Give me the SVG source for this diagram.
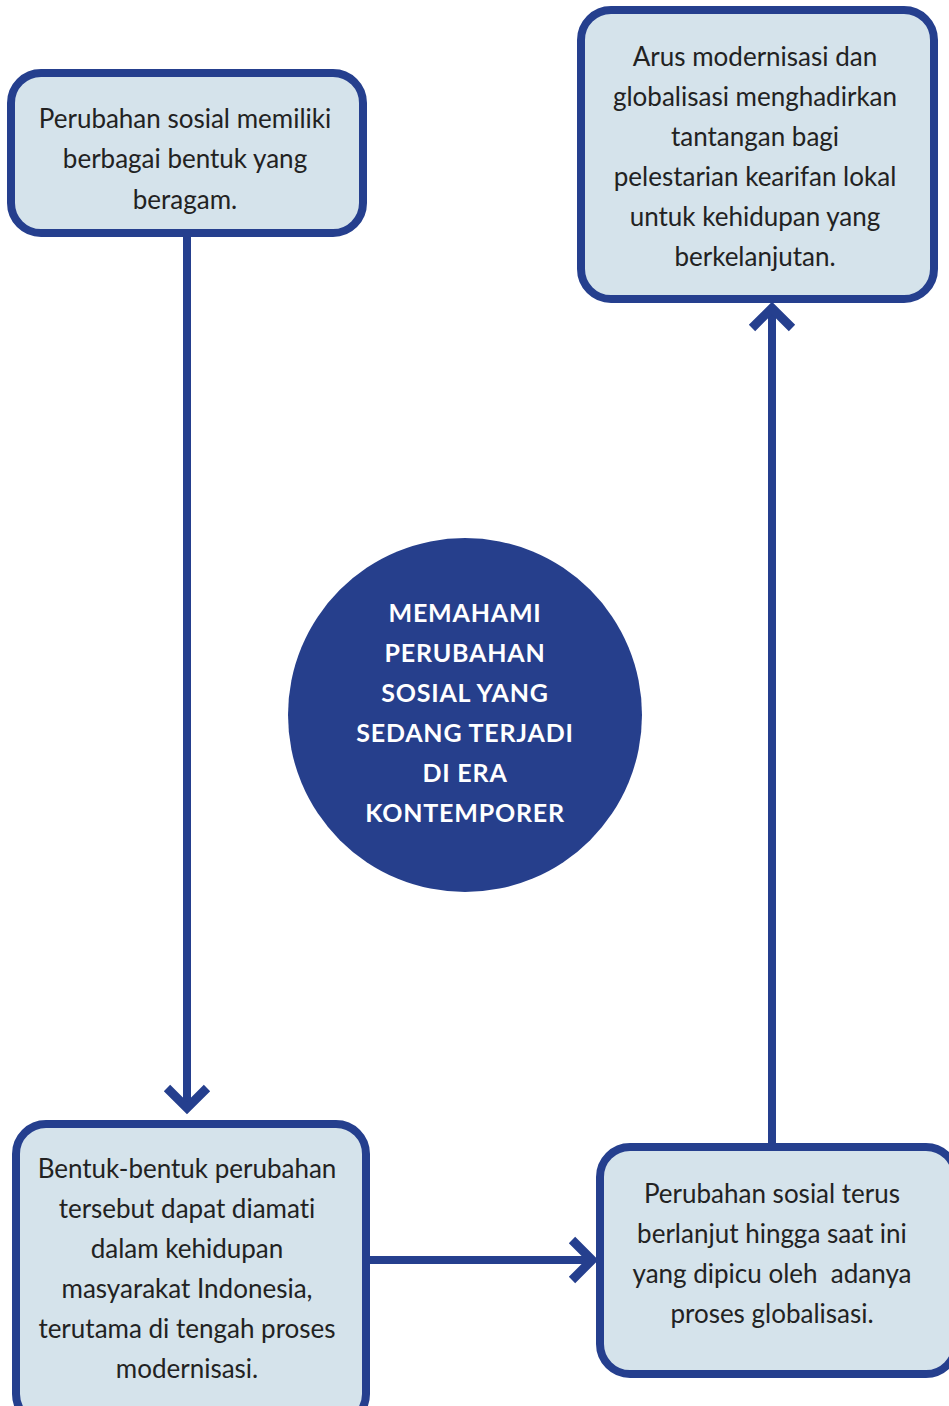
<svg xmlns="http://www.w3.org/2000/svg" width="949" height="1406" viewBox="0 0 949 1406">
<style>
.box{fill:#D5E3EB;stroke:#253F8E;stroke-width:8}
.t{font-family:Lato,"Noto Sans","Liberation Sans",sans-serif;font-size:26px;fill:#222;text-anchor:middle;font-variant-ligatures:none}
.c{font-family:Lato,"Noto Sans","Liberation Sans",sans-serif;font-size:25px;font-weight:bold;fill:#fff;text-anchor:middle;letter-spacing:0.8px}
.ln{fill:none;stroke:#253F8E;stroke-width:8}
.ah{fill:none;stroke:#253F8E;stroke-width:9;stroke-linejoin:miter}
</style>
<rect width="949" height="1406" fill="#fff"/>
<g id="connectors">
<line class="ln" x1="187" y1="237" x2="187" y2="1108"/>
<polyline class="ah" points="167,1088 187,1108 207,1088"/>
<line class="ln" x1="370" y1="1260" x2="592" y2="1260"/>
<polyline class="ah" points="572,1240 592,1260 572,1280"/>
<line class="ln" x1="772" y1="1147" x2="772" y2="308"/>
<polyline class="ah" points="752,328 772,308 792,328"/>
</g>
<g id="node1">
<rect class="box" x="11" y="73" width="352" height="160" rx="30"/>
<text class="t" x="185" y="128">Perubahan sosial memiliki</text>
<text class="t" x="185" y="168">berbagai bentuk yang</text>
<text class="t" x="185" y="209">beragam.</text>
</g>
<g id="node2">
<rect class="box" x="581" y="10" width="353" height="289" rx="30"/>
<text class="t" x="755" y="66">Arus modernisasi dan</text>
<text class="t" x="755" y="106">globalisasi menghadirkan</text>
<text class="t" x="755" y="146">tantangan bagi</text>
<text class="t" x="755" y="186">pelestarian kearifan lokal</text>
<text class="t" x="755" y="226">untuk kehidupan yang</text>
<text class="t" x="755" y="266">berkelanjutan.</text>
</g>
<g id="node3">
<rect class="box" x="16" y="1124" width="350" height="300" rx="30"/>
<text class="t" x="187" y="1178">Bentuk-bentuk perubahan</text>
<text class="t" x="187" y="1218">tersebut dapat diamati</text>
<text class="t" x="187" y="1258">dalam kehidupan</text>
<text class="t" x="187" y="1298">masyarakat Indonesia,</text>
<text class="t" x="187" y="1338">terutama di tengah proses</text>
<text class="t" x="187" y="1378">modernisasi.</text>
</g>
<g id="node4">
<rect class="box" x="600" y="1147" width="356" height="227" rx="30"/>
<text class="t" x="772" y="1203">Perubahan sosial terus</text>
<text class="t" x="772" y="1243">berlanjut hingga saat ini</text>
<text class="t" x="772" y="1283" xml:space="preserve">yang dipicu oleh  adanya</text>
<text class="t" x="772" y="1323">proses globalisasi.</text>
</g>
<g id="center">
<circle cx="465" cy="715" r="177" fill="#263F8C"/>
<text class="c" x="465" y="622">MEMAHAMI</text>
<text class="c" x="465" y="662">PERUBAHAN</text>
<text class="c" x="465" y="702">SOSIAL YANG</text>
<text class="c" x="465" y="742">SEDANG TERJADI</text>
<text class="c" x="465" y="782">DI ERA</text>
<text class="c" x="465" y="822">KONTEMPORER</text>
</g>
</svg>
